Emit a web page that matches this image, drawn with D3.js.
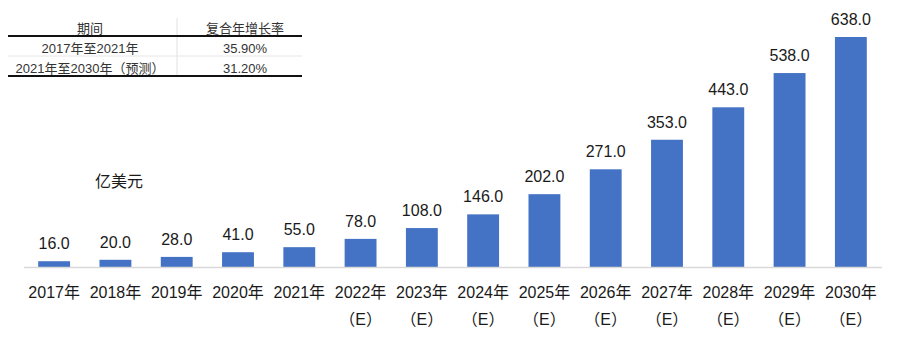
<!DOCTYPE html>
<html>
  <head>
    <meta charset="utf-8">
    <title>市场规模</title>
    <script src="https://d3js.org/d3.v7.min.js"></script>
    <style>
      body { margin: 0; background: #fff; }
      text { font-family: "Liberation Sans", Arial, "Noto Sans CJK SC", sans-serif; }
    </style>
  </head>
  <body>
    <svg id="canvas" width="904" height="352"></svg>
    <script>
      // data
      var years = ["2017年", "2018年", "2019年", "2020年", "2021年", "2022年", "2023年",
                   "2024年", "2025年", "2026年", "2027年", "2028年", "2029年", "2030年"];
      var estimated = [false, false, false, false, false, true, true,
                       true, true, true, true, true, true, true];
      var values = [16.0, 20.0, 28.0, 41.0, 55.0, 78.0, 108.0,
                    146.0, 202.0, 271.0, 353.0, 443.0, 538.0, 638.0];
      var unitLabel = "亿美元";
      var tableHead = ["期间", "复合年增长率"];
      var tablePeriods = ["2017年至2021年", "2021年至2030年（预测）"];
      var tableRates = ["35.90%", "31.20%"];

      var svg = d3.select("#canvas");
      var baseY = 267;

      var x = d3.scaleBand()
        .domain(years)
        .range([23.5, 881.5])
        .paddingInner(0.48)
        .paddingOuter(0.24);

      var y = d3.scaleLinear()
        .domain([0, 638])
        .range([baseY, 37]);

      // bars
      svg.selectAll(".bar")
        .data(values)
        .enter()
        .append("rect")
        .attr("class", "bar")
        .attr("x", function(d, i){ return x(years[i]); })
        .attr("y", function(d){ return y(d); })
        .attr("width", x.bandwidth())
        .attr("height", function(d){ return baseY - y(d); })
        .style("fill", "#4472c4");

      // value labels
      svg.selectAll(".val")
        .data(values)
        .enter()
        .append("text")
        .attr("class", "val")
        .attr("x", function(d, i){ return x(years[i]) + x.bandwidth() / 2; })
        .attr("y", function(d){ return y(d) - 12; })
        .attr("text-anchor", "middle")
        .style("font-size", "16px")
        .style("fill", "#1a1a1a")
        .text(function(d){ return d.toFixed(1); });

      // x axis
      var axis = svg.append("g")
        .attr("transform", "translate(0," + baseY + ")")
        .call(d3.axisBottom(x).tickSize(0).tickPadding(20));
      axis.select(".domain").attr("stroke", "#d9d9d9").attr("stroke-width", 1.5);
      axis.selectAll(".tick text")
        .style("font-size", "16px")
        .style("fill", "#1a1a1a")
        .attr("font-family", null)
        .each(function(d, i){
          if (estimated[i]) {
            d3.select(this.parentNode).append("text")
              .attr("y", 53)
              .attr("dy", "0.32em")
              .attr("text-anchor", "middle")
              .style("font-size", "16px")
              .style("fill", "#1a1a1a")
              .text("（E）");
          }
        });

      // unit label
      svg.append("text")
        .attr("x", 95)
        .attr("y", 187)
        .style("font-size", "16px")
        .style("fill", "#1a1a1a")
        .text(unitLabel);

      // CAGR table
      var t = svg.append("g");
      var colX = [90, 245];
      t.append("line").attr("x1", 177).attr("x2", 177).attr("y1", 18).attr("y2", 76)
        .attr("stroke", "#e0e0e0");
      tableHead.forEach(function(h, i){
        t.append("text").attr("x", colX[i]).attr("y", 33).attr("text-anchor", "middle")
          .style("font-size", "13px").style("fill", "#333").text(h);
      });
      tablePeriods.forEach(function(p, i){
        var ry = 53 + i * 20;
        t.append("text").attr("x", colX[0]).attr("y", ry).attr("text-anchor", "middle")
          .style("font-size", "13px").style("fill", "#333").text(p);
        t.append("text").attr("x", colX[1]).attr("y", ry).attr("text-anchor", "middle")
          .style("font-size", "13px").style("fill", "#333").text(tableRates[i]);
      });
      t.append("line").attr("x1", 8).attr("x2", 302).attr("y1", 36).attr("y2", 36)
        .attr("stroke", "#111").attr("stroke-width", 2);
      t.append("line").attr("x1", 8).attr("x2", 302).attr("y1", 56).attr("y2", 56)
        .attr("stroke", "#e6e6e6").attr("stroke-width", 1);
      t.append("line").attr("x1", 8).attr("x2", 302).attr("y1", 76).attr("y2", 76)
        .attr("stroke", "#111").attr("stroke-width", 2);
    </script>
  </body>
</html>
